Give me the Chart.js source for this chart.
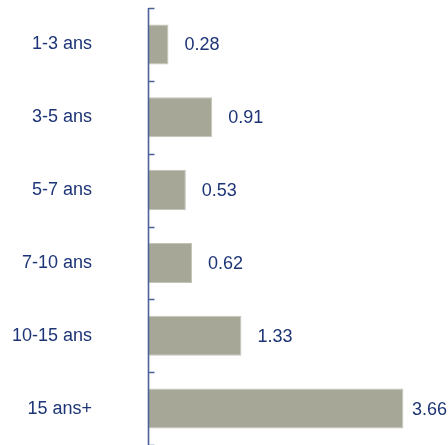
<!DOCTYPE html>
<html>
<head>
<meta charset="utf-8">
<script src="https://cdn.jsdelivr.net/npm/chart.js@4/dist/chart.umd.min.js"></script>
<style>
  html, body { margin: 0; padding: 0; background: #fff; }
  #wrap { width: 448px; height: 445px; }
</style>
</head>
<body>
<div id="wrap"><canvas id="durChart"></canvas></div>
<script>
const categories = ["1-3 ans", "3-5 ans", "5-7 ans", "7-10 ans", "10-15 ans", "15 ans+"];
const values = [0.28, 0.91, 0.53, 0.62, 1.33, 3.66];

const textColor = "#1d3576";
const axisColor = "#4d6199";

// axis line with small ticks pointing into the plot, and value labels
const axisAndLabels = {
  id: "axisAndLabels",
  afterDatasetsDraw(chart) {
    const ctx = chart.ctx;
    const y = chart.scales.y;
    const x = chart.scales.x;
    const x0 = Math.round(x.getPixelForValue(0)) - 0.5;
    ctx.save();
    ctx.strokeStyle = axisColor;
    ctx.lineWidth = 1.6;
    ctx.beginPath();
    ctx.moveTo(x0, y.top);
    ctx.lineTo(x0, chart.height);
    const step = y.height / categories.length;
    for (let i = 0; i <= categories.length; i++) {
      const ty = Math.round(y.top + i * step) + 0.5;
      ctx.moveTo(x0, ty);
      ctx.lineTo(x0 + 6, ty);
    }
    ctx.stroke();

    ctx.fillStyle = textColor;
    ctx.font = "18px 'Liberation Sans', Arial, sans-serif";
    ctx.textBaseline = "middle";
    const meta = chart.getDatasetMeta(0);
    meta.data.forEach((bar, i) => {
      const txt = values[i].toFixed(2);
      const w = ctx.measureText(txt).width;
      let tx = bar.x + 16;
      if (tx + w > chart.width - 1) tx = chart.width - 1 - w;
      ctx.fillText(txt, tx, bar.y + 1);
    });
    ctx.restore();
  }
};

const ctx = document.getElementById("durChart").getContext("2d");
const myChart = new Chart(ctx, {
  type: "bar",
  data: {
    labels: categories,
    datasets: [
      {
        data: values,
        backgroundColor: "#a7a797",
        borderColor: "#c4c4b8",
        borderWidth: 1,
        categoryPercentage: 1,
        barPercentage: 0.55,
      },
    ],
  },
  options: {
    indexAxis: "y",
    responsive: true,
    maintainAspectRatio: false,
    animation: false,
    layout: { autoPadding: false, padding: { top: 8, right: 21, bottom: 0, left: 0 } },
    plugins: {
      legend: { display: false },
      tooltip: { enabled: false },
    },
    scales: {
      x: {
        display: false,
        min: 0,
        max: 4,
      },
      y: {
        border: { display: false },
        grid: { display: false, drawTicks: false },
        afterFit(scale) {
          scale.width = 149;
          scale.paddingTop = 0;
          scale.paddingBottom = 0;
        },
        ticks: {
          padding: 57,
          color: textColor,
          font: { family: "'Liberation Sans', Arial, sans-serif", size: 18 },
        },
      },
    },
  },
  plugins: [axisAndLabels],
});
</script>
</body>
</html>
